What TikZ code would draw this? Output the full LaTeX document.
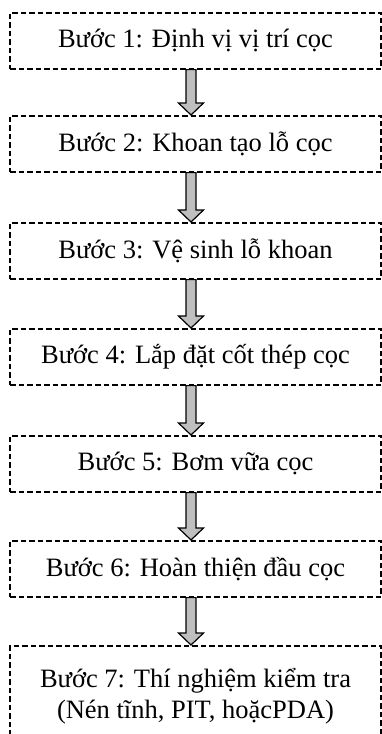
\documentclass[tikz,border=0pt]{standalone}
\usepackage{fontspec}
\setmainfont{Liberation Serif}
\usetikzlibrary{calc}
\tikzset{
  stepbox/.style={draw=black, dash pattern=on 5.5pt off 3pt, line width=1.6pt,
    minimum width=371pt, minimum height=56pt, inner sep=0pt, anchor=north,
    font=\fontsize{26.5}{31}\selectfont, align=center},
  blockarrow/.style={draw=black, solid, line width=1.2pt, fill=black!25,
    to path={let \p1=(\tikztostart), \p2=(\tikztotarget) in
      (\x1-5pt,\y1) -- (\x1+5pt,\y1) -- (\x1+5pt,\y2+12pt) -- (\x1+12.5pt,\y2+12pt)
      -- (\x1,\y2) -- (\x1-12.5pt,\y2+12pt) -- (\x1-5pt,\y2+12pt) -- cycle}},
}
\begin{document}
\begin{tikzpicture}[x=1pt,y=-1pt]
  \useasboundingbox (0,0) rectangle (382,734);
  \clip (0,0) rectangle (382,734);
  % process steps
  \node[stepbox] (s1) at (195.5,12)  {Bước 1: Định vị vị trí cọc};
  \node[stepbox] (s2) at (195.5,115) {Bước 2: Khoan tạo lỗ cọc};
  \node[stepbox] (s3) at (195.5,222) {Bước 3: Vệ sinh lỗ khoan};
  \node[stepbox] (s4) at (195.5,328) {Bước 4: Lắp đặt cốt thép cọc};
  \node[stepbox] (s5) at (195.5,435) {Bước 5: Bơm vữa cọc};
  \node[stepbox] (s6) at (195.5,540) {Bước 6: Hoàn thiện đầu cọc};
  \node[stepbox, minimum height=100pt] (s7) at (195.5,645)
    {Bước 7: Thí nghiệm kiểm tra\\(Nén tĩnh, PIT, hoặcPDA)};
  % block arrows between consecutive steps
  \foreach \a/\b in {s1/s2,s2/s3,s3/s4,s4/s5,s5/s6,s6/s7}
    \draw[blockarrow] ([xshift=-4.5pt]\a.south) to ([xshift=-4.5pt]\b.north);
\end{tikzpicture}
\end{document}
